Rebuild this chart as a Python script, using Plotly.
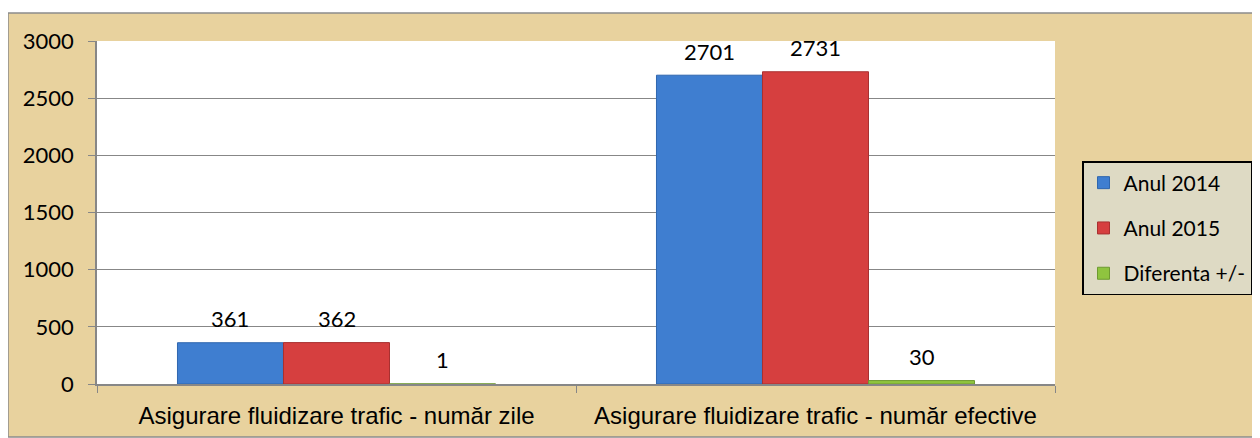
import plotly.graph_objects as go

categories = ["Asigurare fluidizare trafic - număr zile",
              "Asigurare fluidizare trafic - număr efective"]
series_names = ["Anul 2014", "Anul 2015", "Diferenta +/-"]
anul_2014 = [361, 2701]
anul_2015 = [362, 2731]
diferenta = [1, 30]
y_ticks = [0, 500, 1000, 1500, 2000, 2500, 3000]

colors = ["#3F7ED0", "#D63F3F", "#8FC43F"]
edges = ["#2F66AE", "#A83030", "#6E9A30"]

# page has 8px body margin -> figure drawn 8px right/down
W, H = 1252, 430
L, R, T, B = 89, 1047, 33, 376
BARGAP = 0.336

fig = go.Figure()
for i, (name, vals, c, e) in enumerate(zip(series_names, [anul_2014, anul_2015, diferenta], colors, edges)):
    fig.add_trace(go.Bar(
        name=name, x=categories, y=vals, legendgroup=name,
        marker=dict(color=c, line=dict(color=e, width=1)),
        hoverinfo="y",
    ))

pw, ph = R - L, B - T
def px(x): return (x - L) / pw
def py(y): return (B - y) / ph

cat_w = pw / len(categories)
bar_w = cat_w * (1 - BARGAP) / len(series_names)
annotations = []
for i, vals in enumerate([anul_2014, anul_2015, diferenta]):
    for cat, v in zip(categories, vals):
        annotations.append(dict(
            x=cat, y=v, xref="x", yref="y", text=str(v), showarrow=False,
            xshift=(i - 1) * bar_w, yshift=24, yanchor="middle",
            font=dict(family="Lato", size=22, color="#000000"),
        ))

fig.update_layout(
    width=W, height=H,
    margin=dict(l=L, r=W - R, t=T, b=H - B, pad=0, autoexpand=False),
    paper_bgcolor="white",
    plot_bgcolor="rgba(0,0,0,0)",
    barmode="group", bargap=BARGAP, bargroupgap=0,
    showlegend=True,
    legend=dict(
        x=px(1074), y=py(153), xanchor="left", yanchor="top",
        bgcolor="#DEDAC4", bordercolor="#000000", borderwidth=1.5,
        font=dict(family="Lato", size=21, color="#000000"),
        traceorder="grouped", tracegroupgap=15,
    ),
    annotations=annotations,
    shapes=[
        dict(type="rect", xref="paper", yref="paper",
             x0=px(0), x1=px(1251), y0=py(429), y1=py(5),
             fillcolor="#E8D29E", line=dict(color="#8C8C8C", width=1.5), layer="below"),
        dict(type="rect", xref="paper", yref="paper",
             x0=0, x1=1, y0=0, y1=1,
             fillcolor="white", line=dict(width=0), layer="below"),
    ],
)

fig.update_yaxes(
    range=[0, 3000], tickvals=y_ticks,
    showgrid=True, gridcolor="#878787", gridwidth=1,
    showline=True, linecolor="#878787", linewidth=1.5,
    ticks="outside", ticklen=7, tickcolor="#878787",
    ticklabelstandoff=10,
    tickfont=dict(family="Lato", size=22, color="#000000"),
    zeroline=False,
)
fig.update_xaxes(
    showline=True, linecolor="#878787", linewidth=1.5,
    ticks="outside", ticklen=7, tickcolor="#878787", tickson="boundaries",
    ticklabelstandoff=9,
    tickfont=dict(family="Liberation Sans", size=24, color="#000000"),
    showgrid=False,
)

fig.write_html("out.html")
